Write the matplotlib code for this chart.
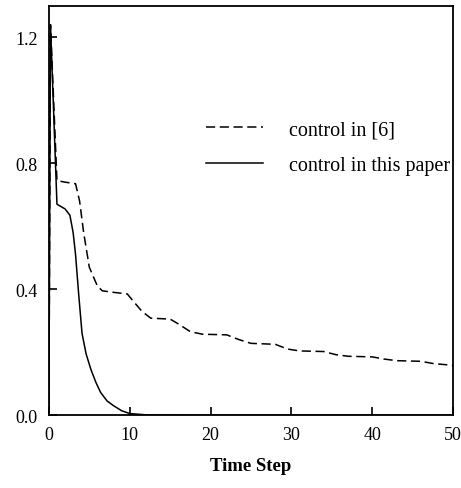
import numpy as np
import matplotlib.pyplot as plt

plt.rcParams['font.family'] = ['Liberation Serif', 'DejaVu Serif']

# control from reference [6]
t_ref = [0, 0.2, 1.0, 2.0, 3.3, 3.8, 4.3, 5.0, 6.0, 6.6, 8.0, 9.7, 10.5, 11.5, 12.6, 15.0, 16.0, 17.5, 19.0,
         22.0, 23.5, 25.0, 28.0, 29.5, 31.0, 34.0, 35.5, 37.0, 40.0, 41.5, 43.0, 46.0, 47.5, 50.0]
y_ref = [0.0, 1.24, 0.745, 0.74, 0.735, 0.68, 0.58, 0.47, 0.41, 0.395, 0.39, 0.385, 0.36, 0.33, 0.308, 0.305, 0.29,
         0.265, 0.257, 0.255, 0.24, 0.228, 0.225, 0.21, 0.204, 0.202, 0.192, 0.187, 0.185, 0.178, 0.173, 0.171, 0.164, 0.158]

# control in this paper
t_new = [0, 0.2, 1.0, 2.0, 2.6, 3.0, 3.3, 3.7, 4.1, 4.6, 5.2, 5.8, 6.4, 7.2, 8.0, 9.0, 10.0, 12.0, 20.0, 50.0]
y_new = [0.0, 1.24, 0.67, 0.655, 0.635, 0.58, 0.51, 0.38, 0.26, 0.195, 0.145, 0.105, 0.072, 0.045, 0.03, 0.014, 0.005, 0.001, 0.0, 0.0]

fig = plt.figure(figsize=(4.61, 4.89), dpi=100)
ax = fig.add_axes([0.106, 0.149, 0.877, 0.837])

ax.plot(t_ref, y_ref, color='black', linestyle=(0, (6, 3)), linewidth=1.1, label='control in [6]')
ax.plot(t_new, y_new, color='black', linestyle='-', linewidth=1.1, label='control in this paper')

ax.set_xlim(0, 50)
ax.set_ylim(0, 1.3)
ax.set_xticks([0, 10, 20, 30, 40, 50])
ax.set_yticks([0.0, 0.4, 0.8, 1.2])
ax.set_yticklabels(['0.0', '0.4', '0.8', '1.2'])
ax.tick_params(direction='in', length=6, width=1.2, labelsize=13, pad=8)
for s in ax.spines.values():
    s.set_linewidth(1.3)

ax.set_xlabel('Time Step', fontsize=13.5, fontweight='bold', labelpad=10)

ax.legend(frameon=False, loc='upper right', bbox_to_anchor=(1.037, 0.765), fontsize=14.5,
          handlelength=2.8, handletextpad=1.3, labelspacing=0.85)

fig.savefig('out.png', dpi=100)
